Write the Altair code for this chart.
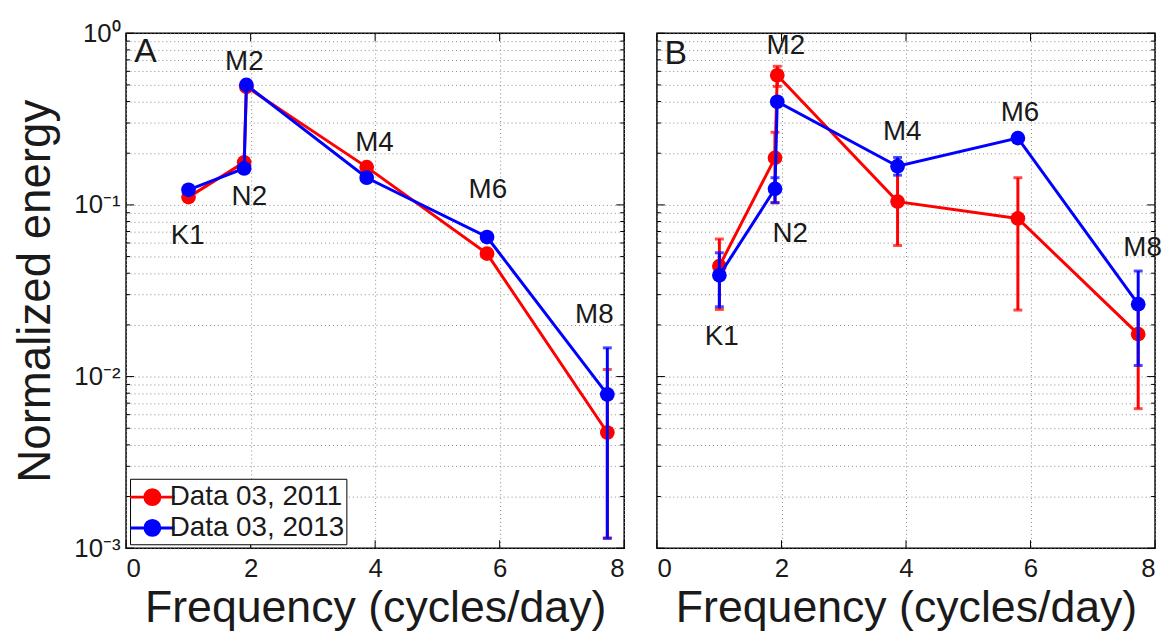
import altair as alt
import pandas as pd

# ---------------- data ----------------
constituents = ["K1", "N2", "M2", "M4", "M6", "M8"]
freq = [1.0027, 1.8960, 1.9323, 3.8645, 5.7968, 7.7290]
series_names = ["Data 03, 2011", "Data 03, 2013"]
series_colors = ["#ff0000", "#0000ff"]

# Panel A
a_2011 = [0.111, 0.177, 0.487, 0.166, 0.052, 0.00472]
a_2011_lo = [None, None, None, None, None, 0.00115]
a_2011_hi = [None, None, None, None, None, 0.011]
a_2013 = [0.1225, 0.163, 0.50, 0.144, 0.065, 0.00787]
a_2013_lo = [None, None, None, None, None, 0.00114]
a_2013_hi = [None, None, None, None, None, 0.0147]

# Panel B
b_2011 = [0.044, 0.188, 0.569, 0.1045, 0.0834, 0.01766]
b_2011_lo = [0.0246, 0.103, 0.49, 0.058, 0.0244, 0.0065]
b_2011_hi = [0.0633, 0.265, 0.642, 0.16, 0.144, 0.026]
b_2013 = [0.0389, 0.124, 0.399, 0.168, 0.245, 0.0264]
b_2013_lo = [0.0255, 0.103, None, 0.149, None, 0.0116]
b_2013_hi = [0.0526, 0.144, None, 0.189, None, 0.0412]

# annotation anchors (data coordinates)
a_label_x = [0.99, 1.98, 1.90, 3.99, 5.81, 7.52]
a_label_y = [0.0662, 0.111, 0.68, 0.228, 0.122, 0.0228]
b_label_x = [1.04, 2.14, 2.07, 3.94, 5.83, 7.80]
b_label_y = [0.017, 0.068, 0.841, 0.264, 0.345, 0.0557]
panel_letters = ["A", "B"]
letter_x = [0.13, 0.12]
letter_y = [0.777, 0.756]

# axes
x_ticks = [0, 2, 4, 6, 8]
y_grid = [0.001, 0.002, 0.003, 0.004, 0.005, 0.006, 0.007, 0.008, 0.009,
          0.01, 0.02, 0.03, 0.04, 0.05, 0.06, 0.07, 0.08, 0.09,
          0.1, 0.2, 0.3, 0.4, 0.5, 0.6, 0.7, 0.8, 0.9, 1]
decade_vals = [1, 0.1, 0.01, 0.001]
decade_labels = ["10\u2070", "10\u207b\u00b9", "10\u207b\u00b2", "10\u207b\u00b3"]
minor_vals = [v for v in y_grid if v not in decade_vals]

FONT = "Liberation Sans"
TXT = "#1a1a1a"
W, H = 502, 519


def make_df(vals_2011, lo_2011, hi_2011, vals_2013, lo_2013, hi_2013):
    rows = []
    for s, vals, lo, hi in [(series_names[0], vals_2011, lo_2011, hi_2011),
                            (series_names[1], vals_2013, lo_2013, hi_2013)]:
        for c, f, v, l, h in zip(constituents, freq, vals, lo, hi):
            rows.append({"series": s, "name": c, "freq": f, "energy": v,
                         "lo": l, "hi": h})
    return pd.DataFrame(rows)


label_expr = " : ".join(
    f"datum.value == {v} ? '{t}'" for v, t in zip(decade_vals, decade_labels)
) + " : ''"

x_scale = alt.Scale(domain=[0, 8], nice=False, padding=0, zero=False)
y_scale = alt.Scale(type="log", domain=[0.001, 1], nice=False, padding=0)
color_scale = alt.Scale(domain=series_names, range=series_colors)


def tick_layers():
    """Inside tick marks on all four sides (MATLAB style)."""
    out = []
    maj = alt.Chart(pd.DataFrame({"v": decade_vals}))
    mnr = alt.Chart(pd.DataFrame({"v": minor_vals}))
    xt = alt.Chart(pd.DataFrame({"v": x_ticks}))
    for src, ln in [(maj, 8), (mnr, 4)]:
        out.append(src.mark_rule(color="black", strokeWidth=1).encode(
            y=alt.Y("v:Q", scale=y_scale), x=alt.value(0), x2=alt.value(ln)))
        out.append(src.mark_rule(color="black", strokeWidth=1).encode(
            y=alt.Y("v:Q", scale=y_scale), x=alt.value(W - ln), x2=alt.value(W)))
    out.append(xt.mark_rule(color="black", strokeWidth=1).encode(
        x=alt.X("v:Q", scale=x_scale), y=alt.value(H - 8), y2=alt.value(H)))
    out.append(xt.mark_rule(color="black", strokeWidth=1).encode(
        x=alt.X("v:Q", scale=x_scale), y=alt.value(0), y2=alt.value(8)))
    return out


def panel(df, lab_x, lab_y, letter, lx, ly, show_y, show_legend):
    x_axis = alt.Axis(values=x_ticks, grid=True, title="Frequency (cycles/day)",
                      format="d", labelPadding=7, titlePadding=5,
                      titleFontSize=45)
    if show_y:
        y_axis = alt.Axis(values=y_grid, grid=True, labelExpr=label_expr,
                          labelOverlap=False, title="Normalized energy",
                          labelPadding=6, titlePadding=15, titleFontSize=46)
    else:
        y_axis = alt.Axis(values=y_grid, grid=True, labels=False, title=None)

    if show_legend:
        legend = alt.Legend(
            title=None, orient="bottom-left", offset=4,
            strokeColor="black", fillColor="white", padding=2,
            labelFont=FONT, labelFontSize=28, labelColor=TXT, labelLimit=400,
            symbolType="M-1.5,0H1.5M0.5,0A0.5,0.5,0,1,1,-0.5,0A0.5,0.5,0,1,1,0.5,0",
            symbolSize=900, symbolStrokeWidth=3, rowPadding=0, labelOffset=1,
            symbolOffset=4, symbolOpacity=1,
        )
    else:
        legend = None

    col = alt.Color("series:N", scale=color_scale, legend=legend)

    base = alt.Chart(df)
    layers = []
    for s in series_names:
        sub = base.transform_filter(alt.datum.series == s)
        err = sub.transform_filter("datum.lo != null")
        rule = err.mark_rule(strokeWidth=3).encode(
            x=alt.X("freq:Q", scale=x_scale, axis=x_axis),
            y=alt.Y("lo:Q", scale=y_scale, axis=y_axis),
            y2="hi:Q", color=col,
        )
        cap_lo = err.mark_tick(orient="horizontal", size=9, thickness=3).encode(
            x="freq:Q", y="lo:Q", color=col)
        cap_hi = err.mark_tick(orient="horizontal", size=9, thickness=3).encode(
            x="freq:Q", y="hi:Q", color=col)
        line = sub.mark_line(strokeWidth=3).encode(
            x="freq:Q", y="energy:Q", order="freq:Q", color=col)
        pts = sub.mark_circle(size=220, opacity=1).encode(
            x="freq:Q", y="energy:Q", color=col)
        layers += [rule, cap_lo, cap_hi, line, pts]

    lab_df = pd.DataFrame({"name": constituents, "lx": lab_x, "ly": lab_y})
    labels = alt.Chart(lab_df).mark_text(
        font=FONT, fontSize=28, color=TXT, align="center", baseline="middle"
    ).encode(x="lx:Q", y="ly:Q", text="name:N")
    let_df = pd.DataFrame({"t": [letter], "lx": [lx], "ly": [ly]})
    let = alt.Chart(let_df).mark_text(
        font=FONT, fontSize=34, color=TXT, align="left", baseline="middle"
    ).encode(x="lx:Q", y="ly:Q", text="t:N")
    layers += [labels, let]
    layers += tick_layers()
    return alt.layer(*layers).properties(width=W, height=H)


dfA = make_df(a_2011, a_2011_lo, a_2011_hi, a_2013, a_2013_lo, a_2013_hi)
dfB = make_df(b_2011, b_2011_lo, b_2011_hi, b_2013, b_2013_lo, b_2013_hi)

pA = panel(dfA, a_label_x, a_label_y, panel_letters[0], letter_x[0], letter_y[0], True, True)
pB = panel(dfB, b_label_x, b_label_y, panel_letters[1], letter_x[1], letter_y[1], False, False)

chart = alt.hconcat(pA, pB, spacing=29).resolve_legend(color="independent").properties(
    padding={"left": 3, "top": 9, "right": 0, "bottom": 0}
).configure_view(
    stroke="black", strokeWidth=1.5
).configure_axis(
    labelFont=FONT, labelFontSize=26, labelColor=TXT,
    titleFont=FONT, titleFontWeight="normal", titleColor=TXT,
    gridColor="#8a8a8a", gridDash=[1, 3], gridWidth=1, gridOpacity=1,
    domain=False, ticks=False,
)

chart.save("out.html", embed_options={"renderer": "svg", "actions": False})
